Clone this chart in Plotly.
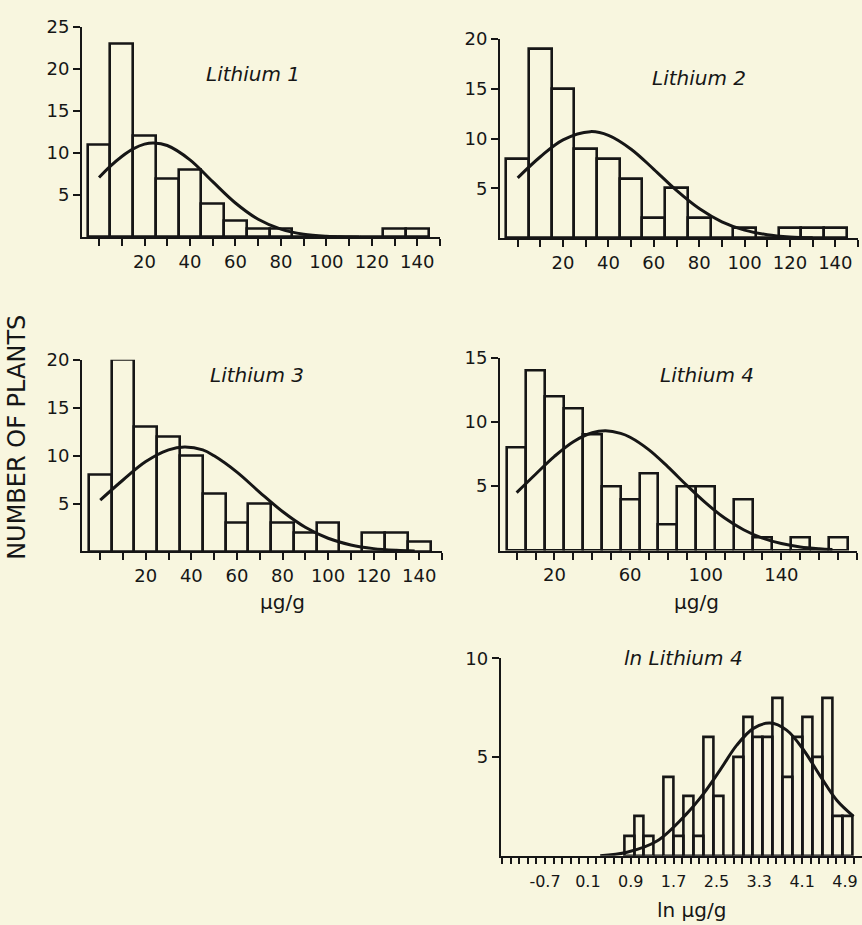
import numpy as np
import plotly.graph_objects as go

# ---------------- data ----------------
li_centers_150 = list(range(0, 150, 10))      # bins of Lithium 1-3 (µg/g)
li4_centers = list(range(0, 180, 10))         # bins of Lithium 4 (µg/g)

li1_counts = [11, 23, 12, 7, 8, 4, 2, 1, 1, 0, 0, 0, 0, 1, 1]
li2_counts = [8, 19, 15, 9, 8, 6, 2, 5, 2, 0, 1, 0, 1, 1, 1]
li3_counts = [8, 20, 13, 12, 10, 6, 3, 5, 3, 2, 3, 0, 2, 2, 1]
li4_counts = [8, 14, 12, 11, 9, 5, 4, 6, 2, 5, 5, 0, 4, 1, 0, 1, 0, 1]

ln_first_edge = 0.78
ln_bin_width = 0.185
ln_counts = [1, 2, 1, 0, 4, 1, 3, 1, 6, 3, 0, 5, 7, 6, 6, 8, 4, 6, 7, 5, 8, 2, 2]
ln_centers = [ln_first_edge + ln_bin_width * (k + 0.5) for k in range(len(ln_counts))]

# fitted normal curves
c1_x = [0, 5, 10, 15, 20, 24, 30, 40, 50, 60, 70, 80, 90, 100, 110, 115]
c1_y = [7.1, 8.45, 9.6, 10.5, 11.06, 11.2, 10.9, 9.2, 6.6, 4.07, 2.14, 0.97, 0.37, 0.12, 0.03, 0.01]
c2_x = [0, 10, 20, 32, 40, 50, 60, 70, 80, 90, 100, 110, 120, 130]
c2_y = [6.06, 8.18, 9.88, 10.7, 10.33, 8.94, 6.92, 4.8, 2.98, 1.65, 0.82, 0.36, 0.14, 0.05]
c3_x = [0, 10, 20, 30, 37, 45, 50, 60, 70, 80, 90, 100, 110, 120, 130, 138]
c3_y = [5.36, 7.46, 9.38, 10.6, 10.9, 10.6, 9.98, 8.28, 6.18, 4.17, 2.53, 1.38, 0.68, 0.30, 0.12, 0.05]
c4_x = [0, 10, 20, 30, 40, 47, 55, 60, 70, 80, 90, 100, 110, 120, 130, 140, 150, 160, 167]
c4_y = [4.5, 5.93, 7.32, 8.46, 9.15, 9.3, 9.1, 8.8, 7.82, 6.5, 5.06, 3.7, 2.52, 1.61, 0.96, 0.54, 0.28, 0.14, 0.08]
c5_x = [0.33, 0.83, 1.39, 1.95, 2.26, 2.57, 2.88, 3.19, 3.5, 3.81, 4.12, 4.43, 4.75, 5.06]
c5_y = [0.0, 0.18, 0.75, 2.15, 3.15, 4.35, 5.6, 6.45, 6.72, 6.36, 5.38, 4.07, 2.8, 2.0]

titles = ["Lithium 1", "Lithium 2", "Lithium 3", "Lithium 4", "ln Lithium 4"]

# tick labels
lin_tickvals_150 = list(range(0, 160, 10))
lin_ticktext_150 = [str(v) if v in (20, 40, 60, 80, 100, 120, 140) else "" for v in lin_tickvals_150]
li4_tickvals = list(range(0, 190, 10))
li4_ticktext = [str(v) if v in (20, 60, 100, 140) else "" for v in li4_tickvals]
ln_tickvals = [-0.7, 0.1, 0.9, 1.7, 2.5, 3.3, 4.1, 4.9]
ln_ticktext = ["-0.7", "0.1", "0.9", "1.7", "2.5", "3.3", "4.1", "4.9"]

# ---------------- layout helpers ----------------
W, H = 862, 925
BG = "#f8f6df"
INK = "#161616"
FONT = "DejaVu Sans"


def xdom(a, b):
    return [a / W, b / W]


def ydom(top, bottom):
    return [1 - bottom / H, 1 - top / H]


panels = [
    dict(xd=(82, 440), xr=[-7.5, 150], yd=(16, 229), yr=[0, 25], yt=[5, 10, 15, 20, 25],
         bx=li_centers_150, by=li1_counts, bw=10, cx=c1_x, cy=c1_y,
         tv=lin_tickvals_150, tt=lin_ticktext_150),
    dict(xd=(500, 858), xr=[-7.8, 150], yd=(28.3, 230), yr=[0, 20], yt=[5, 10, 15, 20],
         bx=li_centers_150, by=li2_counts, bw=10, cx=c2_x, cy=c2_y,
         tv=lin_tickvals_150, tt=lin_ticktext_150),
    dict(xd=(82, 442), xr=[-8, 150], yd=(353, 547), yr=[0, 20], yt=[5, 10, 15, 20],
         bx=li_centers_150, by=li3_counts, bw=10, cx=c3_x, cy=c3_y,
         tv=lin_tickvals_150, tt=lin_ticktext_150),
    dict(xd=(500, 857), xr=[-8.8, 180], yd=(350.7, 546), yr=[0, 15], yt=[5, 10, 15],
         bx=li4_centers, by=li4_counts, bw=10, cx=c4_x, cy=c4_y,
         tv=li4_tickvals, tt=li4_ticktext),
    dict(xd=(500.7, 862), xr=[-1.527, 5.217], yd=(655, 855), yr=[0, 10], yt=[5, 10],
         bx=ln_centers, by=ln_counts, bw=ln_bin_width, cx=c5_x, cy=c5_y,
         tv=ln_tickvals, tt=ln_ticktext),
]

fig = go.Figure()
layout = {}
for i, p in enumerate(panels, start=1):
    sx = "" if i == 1 else str(i)
    fig.add_trace(go.Bar(
        x=p["bx"], y=p["by"], width=p["bw"],
        marker=dict(color="rgba(0,0,0,0)", line=dict(color=INK, width=2.6)),
        xaxis="x" + sx, yaxis="y" + sx, showlegend=False, hoverinfo="x+y",
    ))
    fig.add_trace(go.Scatter(
        x=p["cx"], y=p["cy"], mode="lines",
        line=dict(color=INK, width=3, shape="spline", smoothing=1.0),
        xaxis="x" + sx, yaxis="y" + sx, showlegend=False,
    ))
    small = (i == 5)
    xa = dict(
        domain=xdom(*p["xd"]), range=p["xr"], anchor="y" + sx,
        showline=True, linecolor=INK, linewidth=2, mirror=False,
        showgrid=False, zeroline=False,
        ticks="outside", ticklen=6 if small else 7, tickwidth=2, tickcolor=INK,
        tickmode="array", tickvals=p["tv"], ticktext=p["tt"],
        tickfont=dict(family=FONT, size=16 if small else 18, color=INK),
        fixedrange=True,
    )
    if small:
        xa["minor"] = dict(tick0=-1.5, dtick=0.16, ticks="outside", ticklen=6,
                           tickwidth=2, tickcolor=INK, showgrid=False)
        xa["ticklabelstandoff"] = 4
    ya = dict(
        domain=ydom(*p["yd"]), range=p["yr"], anchor="x" + sx,
        showline=True, linecolor=INK, linewidth=2,
        showgrid=False, zeroline=False,
        ticks="outside", ticklen=7, tickwidth=2, tickcolor=INK,
        tickmode="array", tickvals=p["yt"], ticktext=[str(v) for v in p["yt"]],
        tickfont=dict(family=FONT, size=18, color=INK),
        fixedrange=True,
    )
    layout["xaxis" + sx] = xa
    layout["yaxis" + sx] = ya

ann_font = dict(family=FONT, size=20, color=INK)
title_pos = [(253, 64), (699, 68), (257, 368), (707, 368), (683, 655)]
annotations = []
for t, (x, y) in zip(titles, title_pos):
    annotations.append(dict(text="<i>" + t + "</i>", x=x / W, y=1 - y / H, xref="paper",
                            yref="paper", showarrow=False, font=ann_font,
                            xanchor="center", yanchor="middle"))
annotations += [
    dict(text="µg/g", x=282 / W, y=1 - 598 / H, xref="paper", yref="paper",
         showarrow=False, font=ann_font, xanchor="center", yanchor="middle"),
    dict(text="µg/g", x=696 / W, y=1 - 598 / H, xref="paper", yref="paper",
         showarrow=False, font=ann_font, xanchor="center", yanchor="middle"),
    dict(text="ln µg/g", x=691 / W, y=1 - 910 / H, xref="paper", yref="paper",
         showarrow=False, font=ann_font, xanchor="center", yanchor="middle"),
    dict(text="NUMBER OF PLANTS", x=17 / W, y=1 - 432 / H, xref="paper", yref="paper",
         showarrow=False, textangle=-90, font=dict(family=FONT, size=24, color=INK),
         xanchor="center", yanchor="middle"),
]

fig.update_layout(
    width=W, height=H, autosize=False,
    margin=dict(l=0, r=0, t=0, b=0, pad=0),
    paper_bgcolor=BG, plot_bgcolor=BG,
    barmode="overlay", bargap=0,
    annotations=annotations,
    **layout,
)

page_js = ("document.body.style.margin='0';document.body.style.padding='0';"
           "document.body.style.overflow='hidden';"
           "document.body.style.background='" + BG + "';")
fig.write_html("out.html", post_script=page_js, config={"displayModeBar": False})
